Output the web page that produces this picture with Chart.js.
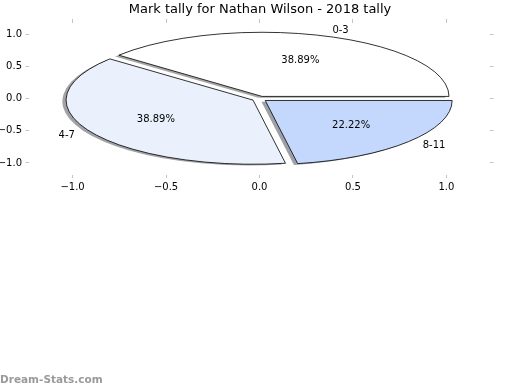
<!DOCTYPE html>
<html>
<head>
<meta charset="utf-8">
<script src="https://cdn.jsdelivr.net/npm/chart.js@4"></script>
<style>
  html, body { margin: 0; padding: 0; background: #fff; }
  canvas { display: block; }
</style>
</head>
<body>
<canvas id="tallyChart" width="520" height="390"></canvas>
<script>
// Chart data
const categories = ['0-3', '4-7', '8-11'];
const tallies = [7, 7, 4];
const explode = [0.04, 0.04, 0.04];
const tickValues = [-1.0, -0.5, 0.0, 0.5, 1.0];
const chartTitle = 'Mark tally for Nathan Wilson - 2018 tally';

const sliceColors = [[255, 255, 255], [234, 241, 253], [196, 216, 253]];
const FONT = "'DejaVu Sans', sans-serif";

const fmtTick = v => (v < 0 ? '\u2212' : '') + Math.abs(v).toFixed(1);

// exploded pie drawn in data coordinates (circle in data = ellipse on screen)
const piePlugin = {
    id: 'explodedPie',
    afterDatasetsDraw(chart) {
        const ctx = chart.ctx;
        const xs = chart.scales.x, ys = chart.scales.y;
        const total = tallies.reduce((a, b) => a + b, 0);
        const rx = xs.getPixelForValue(1) - xs.getPixelForValue(0);
        const ry = ys.getPixelForValue(0) - ys.getPixelForValue(1);

        let start = 0;
        const wedges = tallies.map((v, i) => {
            const t1 = start, t2 = start + 2 * Math.PI * v / total;
            start = t2;
            const mid = (t1 + t2) / 2;
            return { i, t1, t2, mid, ox: explode[i] * Math.cos(mid), oy: explode[i] * Math.sin(mid) };
        });

        const path = (w, sx, sy) => {
            const cx = xs.getPixelForValue(w.ox + sx), cy = ys.getPixelForValue(w.oy + sy);
            ctx.beginPath();
            ctx.moveTo(cx, cy);
            ctx.ellipse(cx, cy, rx, ry, 0, -w.t1, -w.t2, true);
            ctx.closePath();
        };

        ctx.save();
        // shadows first (below every wedge)
        wedges.forEach(w => {
            const c = sliceColors[w.i].map(k => Math.round(k * 0.3));
            path(w, -0.02, -0.02);
            ctx.fillStyle = `rgba(${c[0]},${c[1]},${c[2]},0.5)`;
            ctx.fill();
        });
        wedges.forEach(w => {
            const c = sliceColors[w.i];
            path(w, 0, 0);
            ctx.fillStyle = `rgb(${c[0]},${c[1]},${c[2]})`;
            ctx.fill();
            ctx.lineWidth = 0.8;
            ctx.strokeStyle = '#000';
            ctx.stroke();
        });

        // labels
        ctx.fillStyle = '#000';
        ctx.font = '10px ' + FONT;
        ctx.textBaseline = 'middle';
        wedges.forEach(w => {
            const d = explode[w.i];
            const lx = (d + 1.1) * Math.cos(w.mid), ly = (d + 1.1) * Math.sin(w.mid);
            ctx.textAlign = lx > 0 ? 'left' : 'right';
            ctx.fillText(categories[w.i], xs.getPixelForValue(lx), ys.getPixelForValue(ly));

            const px = (d + 0.6) * Math.cos(w.mid), py = (d + 0.6) * Math.sin(w.mid);
            ctx.textAlign = 'center';
            ctx.fillText((100 * tallies[w.i] / total).toFixed(2) + '%', xs.getPixelForValue(px), ys.getPixelForValue(py));
        });

        // watermark
        ctx.textAlign = 'left';
        ctx.fillStyle = '#9a9a9a';
        ctx.font = 'bold 10.5px ' + FONT;
        ctx.fillText('Dream-Stats.com', 0, 380);
        ctx.restore();
    }
};

function axis(id, position, min, max, size, showLabels) {
    return {
        type: 'linear',
        position: position,
        axis: (position === 'left' || position === 'right') ? 'y' : 'x',
        min: min,
        max: max,
        afterBuildTicks: s => { s.ticks = tickValues.map(v => ({ value: v })); },
        afterFit: s => {
            if (position === 'left' || position === 'right') s.width = size;
            else s.height = size;
        },
        grid: { drawOnChartArea: false, tickLength: 3.5, color: '#c4c4c4', lineWidth: 1 },
        border: { display: false },
        ticks: {
            display: showLabels,
            padding: 3.5,
            color: '#000',
            font: { family: FONT, size: 10 },
            callback: fmtTick
        }
    };
}

new Chart(document.getElementById('tallyChart'), {
    type: 'scatter',
    data: { datasets: [] },
    plugins: [piePlugin],
    options: {
        responsive: false,
        devicePixelRatio: 1,
        animation: false,
        layout: { padding: 0 },
        scales: {
            x: axis('x', 'bottom', -1.233, 1.233, 215.5, true),
            y: axis('y', 'left', -1.18, 1.19, 29, true),
            x2: axis('x2', 'top', -1.233, 1.233, 4.9, false),
            y2: axis('y2', 'right', -1.18, 1.19, 30, false)
        },
        plugins: {
            legend: { display: false },
            tooltip: { enabled: false },
            title: {
                display: true,
                text: chartTitle,
                color: '#000',
                font: { family: FONT, size: 13, weight: 'normal' },
                padding: { top: 2, bottom: 0 }
            }
        }
    }
});
</script>
</body>
</html>
